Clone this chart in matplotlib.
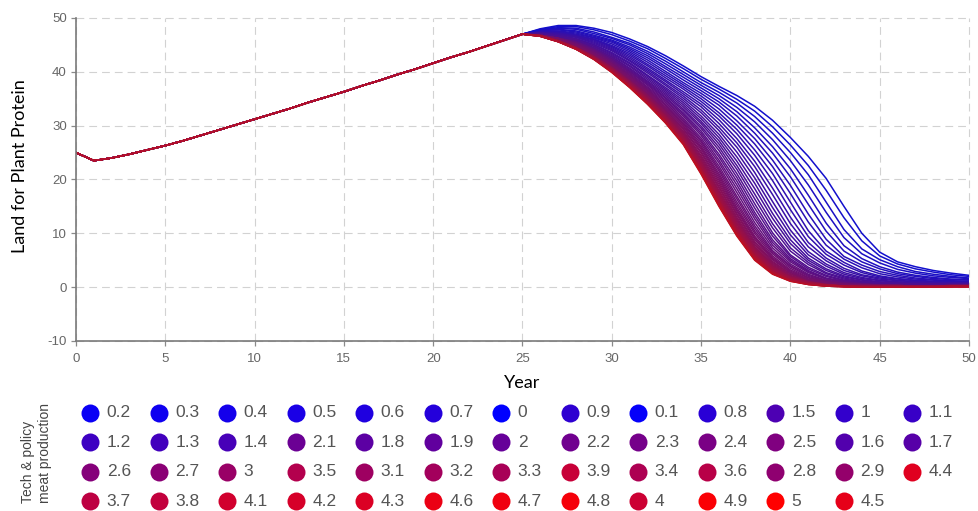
import numpy as np
import matplotlib.pyplot as plt

plt.rcParams['font.family'] = ['Liberation Sans', 'DejaVu Sans']
plt.rcParams['axes.unicode_minus'] = False

# Year axis
years = list(range(0, 51))

# Years 0-25: every scenario follows the same path
shared = [25.0, 23.5, 24.0, 24.7, 25.5, 26.3, 27.2, 28.2, 29.2, 30.2, 31.2,
          32.2, 33.2, 34.3, 35.3, 36.3, 37.4, 38.4, 39.5, 40.5, 41.6, 42.7,
          43.7, 44.8, 45.9, 47.0]

# Years 26-50, one list per "Tech & policy meat production" setting
s0_0 = [48.0, 48.6, 48.6, 48.1, 47.3, 46.1, 44.7, 43.0, 41.1, 39.1, 37.3, 35.6, 33.6, 31.0, 27.8, 24.3, 20.2, 15.0, 10.0, 6.5, 4.7, 3.8, 3.1, 2.6, 2.2]
s0_1 = [47.9, 48.4, 48.4, 47.8, 46.9, 45.7, 44.3, 42.5, 40.6, 38.6, 36.8, 34.9, 32.7, 29.8, 26.4, 22.6, 18.0, 12.9, 8.6, 5.8, 4.3, 3.4, 2.8, 2.3, 2.0]
s0_2 = [47.8, 48.2, 48.1, 47.4, 46.4, 45.3, 43.8, 42.0, 40.0, 38.0, 36.2, 34.2, 31.7, 28.6, 25.0, 20.9, 15.8, 10.7, 7.1, 5.1, 3.8, 2.9, 2.4, 2.0, 1.7]
s0_3 = [47.8, 48.1, 47.9, 47.1, 46.2, 45.0, 43.4, 41.5, 39.5, 37.5, 35.6, 33.4, 30.7, 27.4, 23.5, 19.0, 13.9, 9.2, 6.2, 4.5, 3.3, 2.6, 2.1, 1.8, 1.6]
s0_4 = [47.7, 47.9, 47.6, 46.8, 45.9, 44.6, 43.0, 41.0, 39.0, 37.0, 35.0, 32.6, 29.6, 26.1, 22.0, 17.1, 11.9, 7.7, 5.3, 3.8, 2.8, 2.2, 1.8, 1.5, 1.4]
s0_5 = [47.7, 47.8, 47.4, 46.6, 45.7, 44.3, 42.6, 40.6, 38.5, 36.5, 34.4, 31.8, 28.6, 24.9, 20.5, 15.4, 10.4, 6.7, 4.7, 3.4, 2.5, 2.0, 1.6, 1.4, 1.3]
s0_6 = [47.6, 47.6, 47.2, 46.4, 45.5, 44.0, 42.2, 40.1, 38.0, 36.0, 33.8, 30.9, 27.6, 23.6, 18.9, 13.6, 8.9, 5.7, 4.1, 2.9, 2.2, 1.7, 1.4, 1.2, 1.1]
s0_7 = [47.5, 47.5, 47.0, 46.3, 45.2, 43.7, 41.8, 39.7, 37.6, 35.5, 33.1, 30.1, 26.6, 22.4, 17.4, 12.1, 7.8, 5.2, 3.6, 2.5, 1.9, 1.5, 1.3, 1.1, 1.0]
s0_8 = [47.4, 47.4, 46.8, 46.1, 44.9, 43.4, 41.4, 39.3, 37.2, 35.0, 32.4, 29.3, 25.5, 21.1, 15.8, 10.5, 6.7, 4.6, 3.0, 2.1, 1.6, 1.3, 1.1, 1.0, 0.9]
s0_9 = [47.4, 47.3, 46.8, 46.0, 44.7, 43.1, 41.1, 38.9, 36.8, 34.5, 31.8, 28.5, 24.5, 19.8, 14.4, 9.4, 6.1, 4.1, 2.7, 1.9, 1.5, 1.2, 1.0, 0.9, 0.9]
s1_0 = [47.3, 47.2, 46.7, 45.9, 44.5, 42.8, 40.7, 38.5, 36.3, 34.0, 31.1, 27.6, 23.4, 18.4, 13.0, 8.3, 5.4, 3.5, 2.3, 1.7, 1.3, 1.0, 0.9, 0.8, 0.8]
s1_1 = [47.3, 47.1, 46.6, 45.7, 44.3, 42.5, 40.4, 38.2, 35.9, 33.5, 30.4, 26.8, 22.4, 17.2, 11.8, 7.5, 4.9, 3.1, 2.1, 1.5, 1.2, 1.0, 0.9, 0.8, 0.8]
s1_2 = [47.2, 47.0, 46.5, 45.5, 44.1, 42.2, 40.1, 37.8, 35.5, 32.9, 29.7, 26.0, 21.3, 15.9, 10.6, 6.6, 4.3, 2.7, 1.8, 1.3, 1.0, 0.9, 0.8, 0.7, 0.7]
s1_3 = [47.2, 46.9, 46.4, 45.3, 43.9, 42.0, 39.8, 37.5, 35.1, 32.4, 29.1, 25.1, 20.3, 14.8, 9.7, 6.0, 3.9, 2.4, 1.6, 1.2, 0.9, 0.8, 0.7, 0.7, 0.7]
s1_4 = [47.2, 46.8, 46.2, 45.1, 43.6, 41.7, 39.4, 37.1, 34.7, 31.8, 28.4, 24.2, 19.3, 13.7, 8.8, 5.4, 3.4, 2.1, 1.4, 1.0, 0.8, 0.7, 0.6, 0.6, 0.6]
s1_5 = [47.2, 46.7, 46.1, 45.0, 43.4, 41.5, 39.2, 36.8, 34.3, 31.3, 27.8, 23.4, 18.3, 12.8, 8.1, 5.0, 3.1, 1.9, 1.3, 0.9, 0.8, 0.7, 0.6, 0.6, 0.6]
s1_6 = [47.1, 46.6, 46.0, 44.8, 43.2, 41.2, 38.9, 36.5, 33.9, 30.8, 27.2, 22.6, 17.3, 11.8, 7.3, 4.6, 2.7, 1.7, 1.1, 0.8, 0.7, 0.6, 0.5, 0.5, 0.5]
s1_7 = [47.1, 46.6, 46.0, 44.7, 43.0, 41.0, 38.6, 36.2, 33.5, 30.4, 26.6, 21.9, 16.4, 11.0, 6.7, 4.2, 2.5, 1.5, 1.0, 0.8, 0.7, 0.6, 0.5, 0.5, 0.5]
s1_8 = [47.0, 46.5, 45.9, 44.5, 42.8, 40.7, 38.3, 35.9, 33.1, 29.9, 26.0, 21.1, 15.5, 10.1, 6.0, 3.7, 2.2, 1.3, 0.9, 0.7, 0.6, 0.5, 0.5, 0.4, 0.4]
s1_9 = [47.0, 46.5, 45.8, 44.4, 42.7, 40.5, 38.1, 35.6, 32.8, 29.5, 25.4, 20.4, 14.7, 9.5, 5.7, 3.4, 2.0, 1.2, 0.8, 0.7, 0.6, 0.5, 0.5, 0.4, 0.4]
s2_0 = [47.0, 46.4, 45.7, 44.3, 42.5, 40.3, 37.9, 35.3, 32.4, 29.0, 24.7, 19.7, 13.9, 8.8, 5.3, 3.1, 1.7, 1.1, 0.7, 0.6, 0.5, 0.4, 0.4, 0.4, 0.4]
s2_1 = [47.0, 46.4, 45.6, 44.2, 42.4, 40.1, 37.7, 35.1, 32.1, 28.6, 24.2, 19.0, 13.3, 8.3, 5.0, 2.9, 1.6, 1.0, 0.7, 0.5, 0.5, 0.4, 0.4, 0.4, 0.4]
s2_2 = [46.9, 46.4, 45.5, 44.1, 42.2, 40.0, 37.5, 34.8, 31.8, 28.2, 23.6, 18.3, 12.7, 7.8, 4.7, 2.7, 1.5, 0.9, 0.6, 0.5, 0.4, 0.4, 0.3, 0.3, 0.3]
s2_3 = [46.9, 46.3, 45.4, 44.0, 42.1, 39.8, 37.2, 34.6, 31.4, 27.7, 23.1, 17.6, 12.0, 7.3, 4.3, 2.4, 1.3, 0.8, 0.5, 0.4, 0.3, 0.3, 0.3, 0.3, 0.3]
s2_4 = [46.9, 46.3, 45.3, 43.9, 41.9, 39.6, 37.0, 34.3, 31.1, 27.3, 22.5, 16.9, 11.4, 6.8, 4.0, 2.2, 1.2, 0.7, 0.5, 0.4, 0.3, 0.3, 0.3, 0.3, 0.3]
s2_5 = [46.9, 46.3, 45.2, 43.8, 41.8, 39.4, 36.8, 34.0, 30.8, 27.0, 22.0, 16.4, 10.9, 6.5, 3.8, 2.0, 1.1, 0.7, 0.5, 0.4, 0.3, 0.3, 0.3, 0.3, 0.3]
s2_6 = [46.8, 46.2, 45.2, 43.6, 41.6, 39.3, 36.6, 33.8, 30.5, 26.6, 21.6, 15.8, 10.4, 6.2, 3.5, 1.8, 1.0, 0.6, 0.4, 0.3, 0.3, 0.2, 0.2, 0.3, 0.3]
s2_7 = [46.8, 46.2, 45.1, 43.5, 41.5, 39.1, 36.5, 33.5, 30.3, 26.2, 21.1, 15.3, 10.0, 5.8, 3.2, 1.7, 1.0, 0.5, 0.4, 0.3, 0.3, 0.2, 0.2, 0.3, 0.3]
s2_8 = [46.8, 46.2, 45.0, 43.4, 41.4, 38.9, 36.3, 33.3, 30.0, 25.9, 20.7, 14.8, 9.5, 5.5, 3.0, 1.5, 0.9, 0.5, 0.4, 0.3, 0.3, 0.2, 0.2, 0.3, 0.3]
s2_9 = [46.8, 46.2, 44.9, 43.3, 41.3, 38.8, 36.1, 33.1, 29.8, 25.6, 20.3, 14.4, 9.2, 5.3, 2.8, 1.4, 0.8, 0.5, 0.4, 0.3, 0.3, 0.2, 0.2, 0.3, 0.3]
s3_0 = [46.8, 46.1, 44.9, 43.2, 41.2, 38.7, 36.0, 32.9, 29.5, 25.2, 19.9, 14.1, 8.9, 5.1, 2.7, 1.3, 0.8, 0.4, 0.3, 0.3, 0.3, 0.2, 0.2, 0.3, 0.3]
s3_1 = [46.7, 46.1, 44.8, 43.2, 41.1, 38.5, 35.8, 32.8, 29.3, 24.9, 19.5, 13.7, 8.5, 4.8, 2.5, 1.3, 0.7, 0.4, 0.3, 0.2, 0.2, 0.2, 0.2, 0.2, 0.2]
s3_2 = [46.7, 46.0, 44.8, 43.1, 41.0, 38.4, 35.7, 32.6, 29.0, 24.5, 19.1, 13.4, 8.2, 4.6, 2.4, 1.2, 0.7, 0.3, 0.2, 0.2, 0.2, 0.2, 0.2, 0.2, 0.2]
s3_3 = [46.7, 46.0, 44.7, 43.0, 40.9, 38.3, 35.5, 32.4, 28.8, 24.2, 18.7, 13.0, 7.9, 4.4, 2.2, 1.1, 0.6, 0.3, 0.2, 0.2, 0.2, 0.2, 0.2, 0.2, 0.2]
s3_4 = [46.7, 46.0, 44.6, 42.9, 40.8, 38.2, 35.4, 32.2, 28.6, 23.9, 18.4, 12.7, 7.6, 4.2, 2.1, 1.1, 0.6, 0.3, 0.2, 0.2, 0.2, 0.2, 0.2, 0.2, 0.2]
s3_5 = [46.7, 45.9, 44.6, 42.9, 40.7, 38.1, 35.2, 32.1, 28.4, 23.6, 18.0, 12.4, 7.4, 4.0, 2.0, 1.0, 0.5, 0.3, 0.2, 0.2, 0.2, 0.2, 0.2, 0.2, 0.2]
s3_6 = [46.7, 45.9, 44.6, 42.8, 40.7, 38.0, 35.1, 31.9, 28.2, 23.4, 17.7, 12.1, 7.2, 3.9, 1.9, 1.0, 0.5, 0.3, 0.2, 0.2, 0.2, 0.2, 0.2, 0.2, 0.2]
s3_7 = [46.7, 45.8, 44.5, 42.7, 40.6, 37.9, 35.0, 31.8, 28.0, 23.1, 17.4, 11.8, 7.0, 3.7, 1.8, 0.9, 0.5, 0.2, 0.1, 0.1, 0.1, 0.1, 0.1, 0.2, 0.2]
s3_8 = [46.7, 45.8, 44.5, 42.7, 40.5, 37.9, 34.9, 31.7, 27.8, 22.9, 17.2, 11.6, 6.8, 3.6, 1.8, 0.9, 0.4, 0.2, 0.1, 0.1, 0.1, 0.1, 0.1, 0.2, 0.2]
s3_9 = [46.7, 45.7, 44.4, 42.6, 40.5, 37.8, 34.8, 31.5, 27.7, 22.7, 16.9, 11.3, 6.6, 3.4, 1.7, 0.8, 0.4, 0.2, 0.1, 0.1, 0.1, 0.1, 0.1, 0.2, 0.2]
s4_0 = [46.7, 45.7, 44.4, 42.6, 40.4, 37.7, 34.7, 31.4, 27.5, 22.5, 16.7, 11.1, 6.4, 3.3, 1.6, 0.8, 0.4, 0.2, 0.1, 0.1, 0.1, 0.1, 0.1, 0.2, 0.2]
s4_1 = [46.7, 45.7, 44.4, 42.6, 40.3, 37.6, 34.6, 31.3, 27.4, 22.3, 16.5, 10.9, 6.2, 3.2, 1.5, 0.8, 0.4, 0.2, 0.1, 0.1, 0.1, 0.1, 0.1, 0.2, 0.2]
s4_2 = [46.7, 45.7, 44.4, 42.5, 40.3, 37.6, 34.5, 31.2, 27.3, 22.1, 16.3, 10.7, 6.1, 3.1, 1.5, 0.7, 0.4, 0.2, 0.1, 0.1, 0.1, 0.1, 0.1, 0.2, 0.2]
s4_3 = [46.7, 45.7, 44.3, 42.5, 40.2, 37.5, 34.4, 31.1, 27.1, 21.9, 16.1, 10.5, 5.9, 3.0, 1.4, 0.7, 0.3, 0.2, 0.1, 0.1, 0.1, 0.1, 0.1, 0.2, 0.2]
s4_4 = [46.7, 45.7, 44.3, 42.5, 40.2, 37.4, 34.4, 31.0, 27.0, 21.8, 15.9, 10.4, 5.8, 2.9, 1.4, 0.7, 0.3, 0.2, 0.1, 0.1, 0.1, 0.1, 0.1, 0.1, 0.1]
s4_5 = [46.6, 45.6, 44.3, 42.4, 40.1, 37.4, 34.3, 30.9, 26.9, 21.7, 15.7, 10.2, 5.6, 2.8, 1.3, 0.6, 0.3, 0.1, 0.1, 0.1, 0.1, 0.1, 0.1, 0.1, 0.1]
s4_6 = [46.6, 45.6, 44.3, 42.4, 40.1, 37.3, 34.2, 30.8, 26.8, 21.5, 15.6, 10.0, 5.5, 2.7, 1.3, 0.6, 0.3, 0.1, 0.0, 0.0, 0.0, 0.0, 0.0, 0.1, 0.1]
s4_7 = [46.6, 45.6, 44.2, 42.4, 40.0, 37.2, 34.2, 30.7, 26.7, 21.4, 15.4, 9.9, 5.3, 2.6, 1.2, 0.6, 0.2, 0.1, 0.0, 0.0, 0.0, 0.0, 0.0, 0.1, 0.1]
s4_8 = [46.6, 45.6, 44.2, 42.4, 40.0, 37.2, 34.1, 30.7, 26.7, 21.3, 15.3, 9.8, 5.2, 2.5, 1.2, 0.5, 0.2, 0.1, 0.0, 0.0, 0.0, 0.0, 0.0, 0.1, 0.1]
s4_9 = [46.6, 45.6, 44.2, 42.3, 39.9, 37.1, 34.0, 30.6, 26.6, 21.1, 15.1, 9.6, 5.1, 2.5, 1.1, 0.5, 0.2, 0.1, 0.0, 0.0, 0.0, 0.0, 0.0, 0.1, 0.1]
s5_0 = [46.6, 45.6, 44.2, 42.3, 39.9, 37.1, 34.0, 30.5, 26.5, 21.0, 15.0, 9.5, 5.0, 2.4, 1.1, 0.5, 0.2, 0.1, 0.0, 0.0, 0.0, 0.0, 0.0, 0.1, 0.1]

# legend entries, row by row as they appear under the chart
legend_labels = ["0.2", "0.3", "0.4", "0.5", "0.6", "0.7", "0", "0.9", "0.1", "0.8", "1.5", "1", "1.1",
                 "1.2", "1.3", "1.4", "2.1", "1.8", "1.9", "2", "2.2", "2.3", "2.4", "2.5", "1.6", "1.7",
                 "2.6", "2.7", "3", "3.5", "3.1", "3.2", "3.3", "3.9", "3.4", "3.6", "2.8", "2.9", "4.4",
                 "3.7", "3.8", "4.1", "4.2", "4.3", "4.6", "4.7", "4.8", "4", "4.9", "5", "4.5"]

series = {
    0.0: s0_0, 0.1: s0_1, 0.2: s0_2, 0.3: s0_3, 0.4: s0_4, 0.5: s0_5, 0.6: s0_6, 0.7: s0_7, 0.8: s0_8, 0.9: s0_9,
    1.0: s1_0, 1.1: s1_1, 1.2: s1_2, 1.3: s1_3, 1.4: s1_4, 1.5: s1_5, 1.6: s1_6, 1.7: s1_7, 1.8: s1_8, 1.9: s1_9,
    2.0: s2_0, 2.1: s2_1, 2.2: s2_2, 2.3: s2_3, 2.4: s2_4, 2.5: s2_5, 2.6: s2_6, 2.7: s2_7, 2.8: s2_8, 2.9: s2_9,
    3.0: s3_0, 3.1: s3_1, 3.2: s3_2, 3.3: s3_3, 3.4: s3_4, 3.5: s3_5, 3.6: s3_6, 3.7: s3_7, 3.8: s3_8, 3.9: s3_9,
    4.0: s4_0, 4.1: s4_1, 4.2: s4_2, 4.3: s4_3, 4.4: s4_4, 4.5: s4_5, 4.6: s4_6, 4.7: s4_7, 4.8: s4_8, 4.9: s4_9,
    5.0: s5_0,
}


def setting_color(p):
    # blue (0) -> red (5)
    t = p / 5.0
    return (t, 0.0, 1.0 - t)


def line_color(p):
    # thin lines read a little darker / duller than the legend dots
    c = np.array(setting_color(p))
    return tuple(0.68 * c + 0.32 * np.array([0.22, 0.18, 0.38]))


fig = plt.figure(figsize=(9.79, 5.11), dpi=100)
ax = fig.add_axes([0.0776, 0.3327, 0.9122, 0.6321])

for lab in legend_labels:
    p = round(float(lab), 1)
    ax.plot(years, shared + series[p], color=line_color(p), linewidth=1.1)

ax.set_xlim(0, 50)
ax.set_ylim(-10, 50)
ax.set_xticks(range(0, 51, 5))
ax.set_yticks(range(-10, 51, 10))
ax.grid(True, color='#d2d2d2', linestyle=(0, (7, 4.5)), linewidth=0.8)
for gl in ax.get_xgridlines() + ax.get_ygridlines():
    gl.set_clip_on(False)
ax.set_axisbelow(True)
for side in ['top', 'right']:
    ax.spines[side].set_visible(False)
for side in ['left', 'bottom']:
    ax.spines[side].set_color('#7a7a7a')
    ax.spines[side].set_linewidth(1.2)
ax.tick_params(axis='both', colors='#8a8a8a', labelcolor='#666666',
               labelsize=9.5, length=3.6, width=0.9)
ax.tick_params(axis='x', pad=5)
ax.tick_params(axis='y', pad=3)

ax.set_xlabel('Year', fontsize=13, family=['Lato', 'DejaVu Sans'], color='black')
ax.xaxis.set_label_coords(0.5, -0.105)
ax.set_ylabel('Land for Plant Protein', fontsize=13, family=['Lato', 'DejaVu Sans'], color='black')
ax.yaxis.set_label_coords(-0.054, 0.542)

# legend grid below the chart
ncols = 13
leg = fig.add_axes([0.05695, -0.01027, 0.90960, 0.23092])
leg.set_xlim(-0.5, 12.5)
leg.set_ylim(3.5, -0.5)
leg.axis('off')
for i, lab in enumerate(legend_labels):
    r, c = divmod(i, ncols)
    p = float(lab)
    leg.scatter([c], [r], s=168, color=setting_color(p), linewidths=0, clip_on=False)
    leg.text(c + 0.244, r, lab, ha='left', va='center', fontsize=12.5,
             color='#555555', clip_on=False)

fig.text(0.0373, 0.016, 'Tech & policy\nmeat production', rotation=90,
         ha='center', va='bottom', multialignment='left', fontsize=10,
         color='#444444', linespacing=1.2)

fig.savefig('out.png', dpi=100, facecolor='white')
